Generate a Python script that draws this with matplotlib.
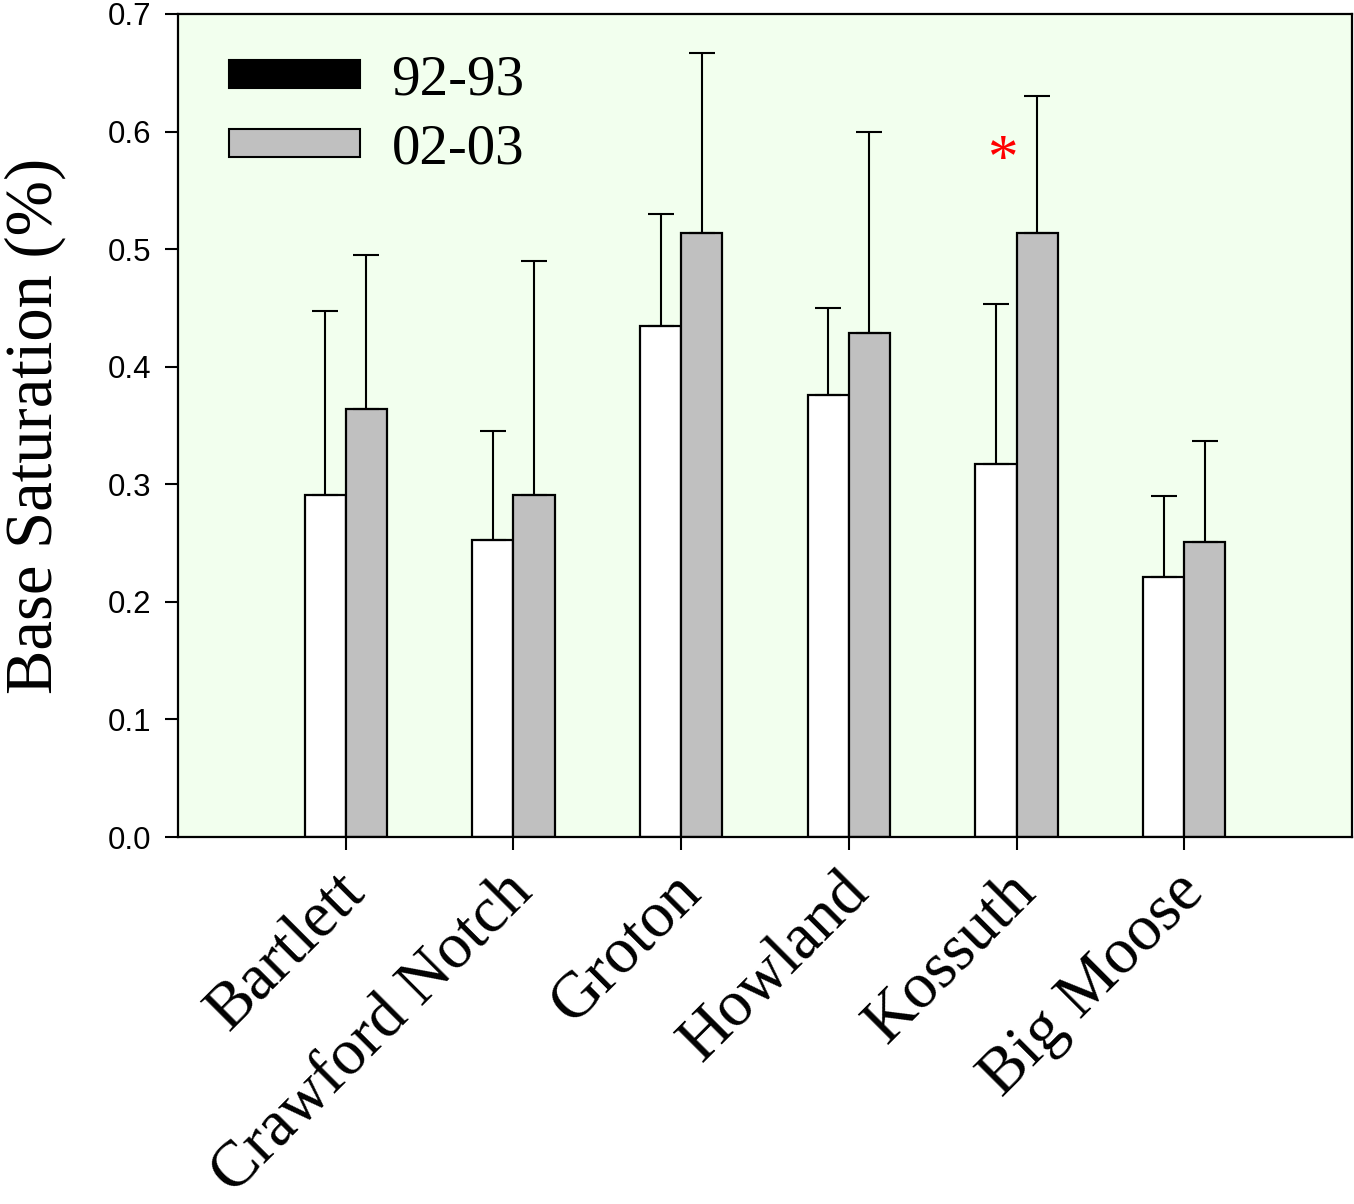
import matplotlib
matplotlib.use("Agg")
import matplotlib.pyplot as plt
import matplotlib.patches as mpatches
import matplotlib.transforms as mtrans
import numpy as np

sites = ["Bartlett", "Crawford Notch", "Groton", "Howland", "Kossuth", "Big Moose"]
bs_9293 = [0.291, 0.253, 0.435, 0.376, 0.317, 0.221]
err_9293 = [0.156, 0.092, 0.095, 0.074, 0.136, 0.069]
bs_0203 = [0.364, 0.291, 0.514, 0.429, 0.514, 0.251]
err_0203 = [0.131, 0.199, 0.153, 0.171, 0.116, 0.086]
legend_labels = ["92-93", "02-03"]
yticks = [0.0, 0.1, 0.2, 0.3, 0.4, 0.5, 0.6, 0.7]

fig = plt.figure(figsize=(13.54, 12.04), dpi=100)
ax = fig.add_axes([0.1315, 0.3048, 0.867, 0.6836])
ax.set_facecolor("#F2FFEE")

x = np.arange(len(sites))
w = 0.245
lw = 1.6
ax.bar(x - w, bs_9293, width=w, align="edge", color="white", edgecolor="black", linewidth=lw, zorder=2)
ax.bar(x, bs_0203, width=w, align="edge", color="#C0C0C0", edgecolor="black", linewidth=lw, zorder=2)
ax.errorbar(x - w / 2, bs_9293, yerr=[np.zeros(len(x)), err_9293], fmt="none", ecolor="black",
            elinewidth=1.5, capsize=9.5, capthick=1.5, zorder=3)
ax.errorbar(x + w / 2, bs_0203, yerr=[np.zeros(len(x)), err_0203], fmt="none", ecolor="black",
            elinewidth=1.5, capsize=9.5, capthick=1.5, zorder=3)

# significance marker above Kossuth
ax.text(4 - 0.083, 0.562, "*", color="red", fontsize=44, family="Liberation Serif",
        ha="center", va="baseline", zorder=4)

ax.set_xlim(-1, 6)
ax.set_ylim(0, 0.7)
ax.set_yticks(yticks)
ax.set_yticklabels([f"{v:.1f}" for v in yticks], fontsize=22.5, family="Liberation Sans")
ax.set_xticks(x)
ax.set_xticklabels([])
offset = mtrans.ScaledTranslation(10 / 100, -46 / 100, fig.dpi_scale_trans)
for xi, name in zip(x, sites):
    ax.text(xi, 0, name, transform=ax.get_xaxis_transform() + offset, rotation=45,
            ha="right", va="center", rotation_mode="anchor", fontsize=47,
            family="Liberation Serif", clip_on=False)
ax.tick_params(axis="both", direction="out", length=9.5, width=1.5, color="black")
ax.tick_params(axis="y", pad=10)
for s in ax.spines.values():
    s.set_linewidth(1.6)

ax.set_ylabel("Base Saturation (%)", fontsize=48, family="Liberation Serif", labelpad=30)

handles = [mpatches.Patch(facecolor="black", edgecolor="black", linewidth=1.5),
           mpatches.Patch(facecolor="#C0C0C0", edgecolor="black", linewidth=1.5)]
leg = ax.legend(handles, legend_labels, loc="upper left", bbox_to_anchor=(0.0, 1.013),
                frameon=False, prop={"family": "Liberation Serif", "size": 41},
                handlelength=2.3, handleheight=0.38, handletextpad=0.55, labelspacing=0.3)

fig.savefig("out.png", dpi=100)
